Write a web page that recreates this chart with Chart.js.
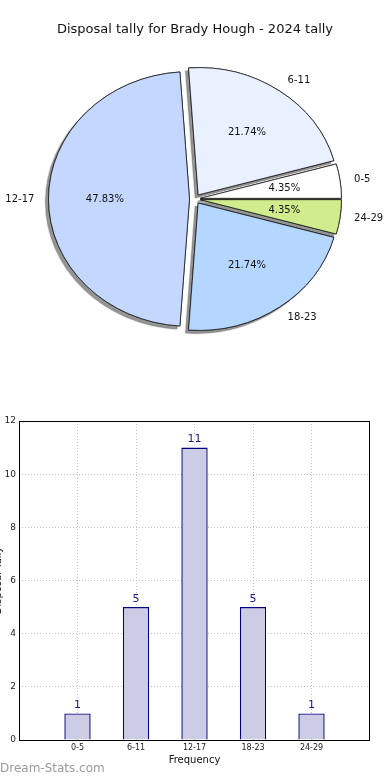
<!DOCTYPE html>
<html>
<head>
<meta charset="utf-8">
<script src="https://cdn.jsdelivr.net/npm/chart.js@4"></script>
<style>
  html, body { margin: 0; padding: 0; background: #fff; }
  #wrap { position: relative; width: 390px; height: 780px; }
  canvas { position: absolute; left: 0; }
  #pieChart { top: 0; }
  #barChart { top: 390px; }
</style>
</head>
<body>
<div id="wrap">
  <canvas id="pieChart" width="390" height="390"></canvas>
  <canvas id="barChart" width="390" height="390"></canvas>
</div>
<script>
// data
const categories = ['0-5', '6-11', '12-17', '18-23', '24-29'];
const tally = [1, 5, 11, 5, 1];
const sliceColors = ['#ffffff', '#e9f0ff', '#c4d8ff', '#b4d6ff', '#d0ec8c'];
const yTicks = [0, 2, 4, 6, 8, 10, 12];

const FONT = "'DejaVu Sans', sans-serif";
const EXPLODE = 5.5;   // px each slice is pushed out
const SQUASH = 0.903;  // the pie is drawn as an ellipse
const total = tally.reduce((a, b) => a + b, 0);

// --- Pie ---
// matplotlib goes counter clockwise from 3 o'clock, Chart.js clockwise,
// so feed the slices in reverse and start at 90deg
const pieLabels = categories.slice().reverse();
const pieValues = tally.slice().reverse();
const pieColors = sliceColors.slice().reverse();

function drawSlices(ctx, arcs, withShadow) {
  arcs.forEach(arc => {
    const mid = (arc.startAngle + arc.endAngle) / 2;
    ctx.save();
    if (withShadow) {
      ctx.shadowColor = 'rgba(0,0,0,0.42)';
      ctx.shadowBlur = 1;
      ctx.shadowOffsetX = -3;
      ctx.shadowOffsetY = 3;
    }
    ctx.translate(Math.cos(mid) * EXPLODE, Math.sin(mid) * EXPLODE);
    arc.draw(ctx);
    ctx.restore();
  });
}

const explodedPie = {
  id: 'explodedPie',
  beforeDatasetsDraw(chart) {
    const ctx = chart.ctx;
    const arcs = chart.getDatasetMeta(0).data;
    if (!arcs.length) return;
    const cx = arcs[0].x, cy = arcs[0].y;
    ctx.save();
    ctx.translate(cx, cy);
    ctx.scale(1, SQUASH);
    ctx.translate(-cx, -cy);
    // shadows first, then the slices again on top so shadows stay underneath
    drawSlices(ctx, arcs, true);
    drawSlices(ctx, arcs, false);
    ctx.restore();
    return false;
  },
  afterDraw(chart) {
    const ctx = chart.ctx;
    const arcs = chart.getDatasetMeta(0).data;
    ctx.save();
    ctx.fillStyle = '#111';
    ctx.font = '10px ' + FONT;
    ctx.textBaseline = 'middle';
    arcs.forEach((arc, i) => {
      const mid = (arc.startAngle + arc.endAngle) / 2;
      const r = arc.outerRadius;
      const c = Math.cos(mid), s = Math.sin(mid);
      // category label outside
      let d = EXPLODE + 1.1 * r;
      ctx.textAlign = c >= 0 ? 'left' : 'right';
      ctx.fillText(pieLabels[i], arc.x + c * d, arc.y + s * d * SQUASH);
      // percentage inside
      d = EXPLODE + 0.6 * r;
      ctx.textAlign = 'center';
      const pct = (pieValues[i] / total * 100).toFixed(2) + '%';
      ctx.fillText(pct, arc.x + c * d, arc.y + s * d * SQUASH);
    });
    ctx.restore();
  }
};

new Chart(document.getElementById('pieChart'), {
  type: 'pie',
  data: {
    labels: pieLabels,
    datasets: [{
      data: pieValues,
      backgroundColor: pieColors,
      borderColor: '#111',
      borderWidth: 0.8,
      radius: 141
    }]
  },
  options: {
    responsive: false,
    animation: false,
    events: [],
    rotation: 90,
    layout: { padding: { top: 0, bottom: 29.6 } },
    plugins: {
      legend: { display: false },
      tooltip: { enabled: false },
      title: {
        display: true,
        text: 'Disposal tally for Brady Hough - 2024 tally',
        color: '#111',
        font: { family: FONT, size: 13, weight: 'normal' },
        padding: { top: 22, bottom: 0 }
      }
    }
  },
  plugins: [explodedPie]
});

// --- Bar ---
// empty slots at both ends so the categories sit one step in from the frame
const barLabels = [''].concat(categories, ['']);
const barValues = [null].concat(tally, [null]);

const barExtras = {
  id: 'barExtras',
  afterDatasetsDraw(chart) {
    const ctx = chart.ctx;
    ctx.save();
    ctx.fillStyle = '#1a1a8c';
    ctx.font = '11px ' + FONT;
    ctx.textAlign = 'center';
    ctx.textBaseline = 'middle';
    chart.getDatasetMeta(0).data.forEach((bar, i) => {
      if (barValues[i] == null) return;
      ctx.fillText(String(barValues[i]), bar.x, bar.y - 8);
    });
    ctx.restore();
  },
  afterDraw(chart) {
    const ctx = chart.ctx;
    const a = chart.chartArea;
    ctx.save();
    ctx.strokeStyle = '#000';
    ctx.lineWidth = 1;
    ctx.strokeRect(Math.round(a.left) + 0.5, Math.round(a.top) + 0.5,
      Math.round(a.right - a.left) - 1, Math.round(a.bottom - a.top));
    ctx.fillStyle = '#9a9a9a';
    ctx.font = '12px ' + FONT;
    ctx.textAlign = 'left';
    ctx.textBaseline = 'middle';
    ctx.fillText('Dream-Stats.com', 0, 379);
    ctx.restore();
  }
};

new Chart(document.getElementById('barChart'), {
  type: 'bar',
  data: {
    labels: barLabels,
    datasets: [{
      data: barValues,
      backgroundColor: '#ccccE4',
      borderColor: '#000080',
      borderWidth: 1.4,
      categoryPercentage: 1,
      barPercentage: 0.45
    }]
  },
  options: {
    responsive: false,
    animation: false,
    events: [],
    layout: { padding: { top: 31, right: 20, bottom: 10, left: 0 } },
    plugins: {
      legend: { display: false },
      tooltip: { enabled: false }
    },
    scales: {
      x: {
        offset: false,
        grid: {
          offset: false,
          drawTicks: false,
          color: ctx => (ctx.index === 0 || ctx.index === barLabels.length - 1) ? 'rgba(0,0,0,0)' : '#c4c4c4',
          lineWidth: 1
        },
        border: { display: false, dash: [1, 2] },
        ticks: { color: '#222', font: { family: FONT, size: 8 }, padding: 3, autoSkip: false, maxRotation: 0 },
        title: {
          display: true,
          text: 'Frequency',
          color: '#111',
          font: { family: FONT, size: 10 },
          padding: { top: 0, bottom: 3.5 }
        },
        afterFit(scale) { scale.height = 30; }
      },
      y: {
        min: 0,
        max: 12,
        afterBuildTicks(scale) { scale.ticks = yTicks.map(v => ({ value: v })); },
        grid: { drawTicks: false, color: '#c4c4c4', lineWidth: 1 },
        border: { display: false, dash: [1, 2] },
        ticks: { color: '#222', font: { family: FONT, size: 9 }, padding: 3 },
        title: {
          display: true,
          text: 'Disposal Tally',
          color: '#111',
          font: { family: FONT, size: 10 },
          padding: { top: -8, bottom: 0 }
        },
        afterFit(scale) { scale.width = 19; }
      }
    }
  },
  plugins: [barExtras]
});
</script>
</body>
</html>
